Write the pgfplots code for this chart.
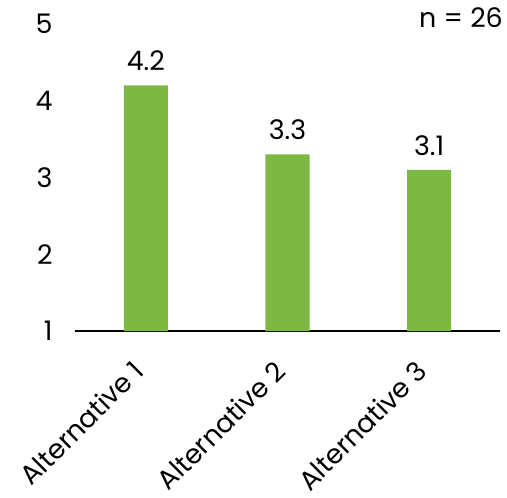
\documentclass[border=0pt]{standalone}
\usepackage{pgfplots}
\pgfplotsset{compat=1.18}
\usepackage{fontspec}
\setmainfont{Poppins}
\definecolor{bargreen}{RGB}{124,184,66}
\begin{document}
\begin{tikzpicture}
\useasboundingbox (-75bp,-167bp) rectangle (432bp,331bp);
\begin{axis}[
  at={(0,0)}, anchor=south west,
  scale only axis,
  width=425bp, height=307bp,
  xmin=-0.5, xmax=2.5,
  ymin=1, ymax=5,
  ytick={1,2,3,4,5},
  xtick=data,
  xticklabels={Alternative 1,Alternative 2,Alternative 3},
  axis lines*=left,
  y axis line style={draw=none},
  x axis line style={line width=1.5bp, black},
  major tick length=0pt,
  ybar, bar width=44bp,
  /pgf/number format/assume math mode=true,
  tick label style={font=\fontsize{27}{32}\selectfont, black},
  yticklabel style={xshift=-19bp},
  xticklabel style={rotate=45, anchor=north east, inner sep=0bp, yshift=-9bp, xshift=-30bp},
  nodes near coords,
  nodes near coords style={font=\fontsize{27}{32}\selectfont, black, /pgf/number format/fixed, /pgf/number format/fixed zerofill, /pgf/number format/precision=1, yshift=11bp},
  clip=false,
]
\addplot[fill=bargreen, draw=none] coordinates {(0,4.2) (1,3.3) (2,3.1)};
\end{axis}
\node[anchor=north east, font=\fontsize{27}{32}\selectfont, inner sep=0pt] at (428bp,324bp) {n = 26};
\end{tikzpicture}
\end{document}
